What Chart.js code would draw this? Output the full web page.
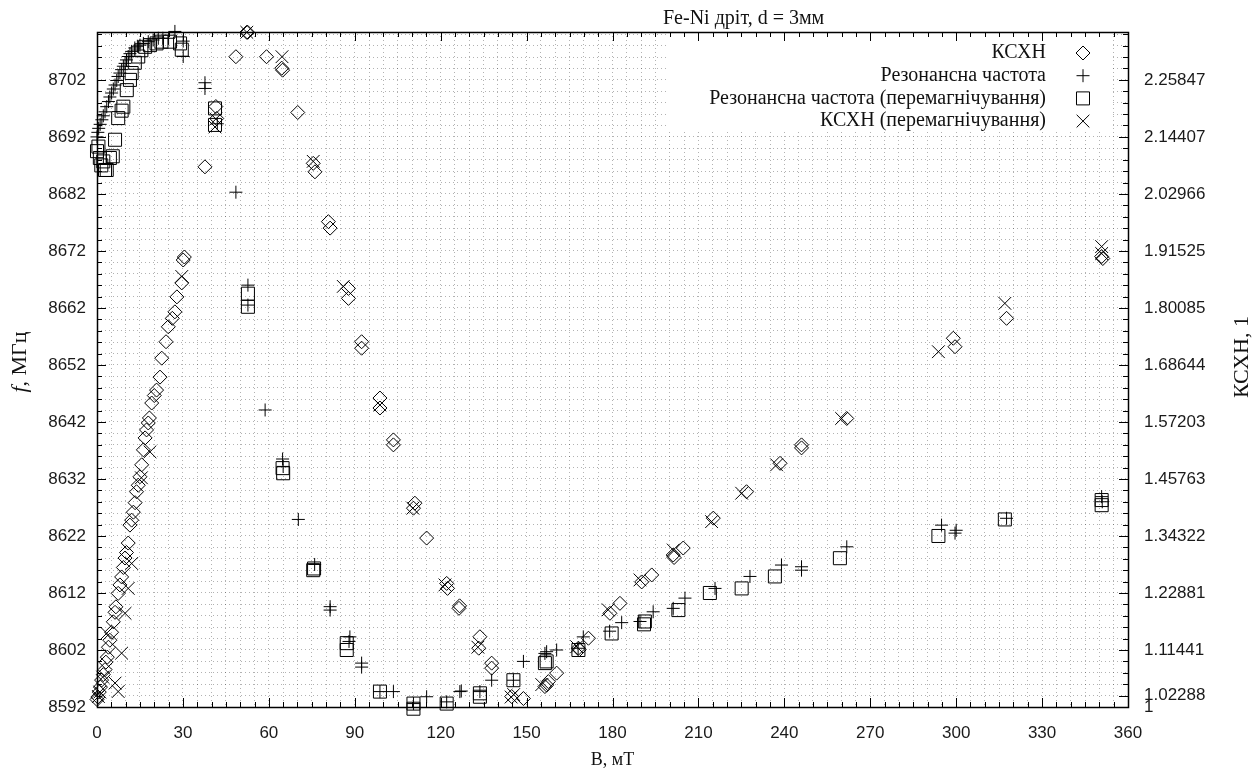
<!DOCTYPE html>
<html>
<head>
<meta charset="utf-8">
<script src="https://cdn.jsdelivr.net/npm/chart.js@4/dist/chart.umd.min.js"></script>
<style>
  html, body { margin: 0; padding: 0; background: #fff; }
  #wrap { width: 1254px; height: 776px; position: relative; }
</style>
</head>
<body>
<div id="wrap"><canvas id="chart"></canvas></div>
<script>

// КСХН (diamonds, right axis)
const bVswr = [0, 0.3, 0.8, 1.2, 1.6, 2.2, 2.8, 3.1, 3.6, 4.0, 4.5, 5.1, 5.7, 6.3, 6.6, 7.4, 8.0, 8.6, 9.2, 9.8,
    10.3, 10.9, 11.5, 12.1, 12.7, 13.3, 13.8, 14.4, 15.0, 15.6, 16.2, 16.8, 17.3, 17.9, 18.3, 19.1, 20.0, 20.8, 22.0, 22.6,
    24.1, 24.9, 26.3, 27.2, 27.9, 29.6, 30.1, 30.5,
    37.7, 41.5, 41.8, 48.5, 52.3, 52.6, 59.2, 64.5, 64.8, 70.1, 75.5, 76.1, 80.8, 81.4, 87.8, 87.8, 92.4, 92.4, 98.8, 98.8,
    103.5, 103.5, 111.0, 110.5, 115.1, 122.1, 122.4, 126.4, 126.6, 133.7, 133.3, 137.8, 137.8, 144.8, 148.9, 156.4, 157.0,
    157.6, 160.5, 168.1, 168.4, 171.6, 179.1, 182.6, 190.2, 193.7, 201.2, 201.5, 204.7, 215.2, 226.8, 238.5, 246.0, 246.0,
    261.8, 299.0, 299.6, 317.6, 350.8, 351.2]
const vswr = [1.015, 1.02, 1.03, 1.04, 1.054, 1.065, 1.075, 1.09, 1.10, 1.12, 1.134, 1.15, 1.171, 1.19, 1.201, 1.228, 1.245, 1.261, 1.28, 1.299,
    1.31, 1.329, 1.365, 1.375, 1.391, 1.41, 1.432, 1.445, 1.462, 1.486, 1.516, 1.540, 1.556, 1.57, 1.580, 1.610, 1.625, 1.636, 1.662, 1.700,
    1.733, 1.763, 1.78, 1.793, 1.823, 1.851, 1.897, 1.903,
    2.084, 2.205, 2.181, 2.305, 2.354, 2.354, 2.305, 2.282, 2.278, 2.193, 2.091, 2.074, 1.974, 1.961, 1.840, 1.820, 1.733, 1.720, 1.620, 1.600,
    1.536, 1.526, 1.409, 1.399, 1.339, 1.248, 1.238, 1.198, 1.203, 1.141, 1.118, 1.088, 1.078, 1.021, 1.017, 1.041, 1.044,
    1.051, 1.068, 1.118, 1.115, 1.138, 1.188, 1.208, 1.251, 1.265, 1.305, 1.300, 1.319, 1.379, 1.432, 1.489, 1.526, 1.520,
    1.579, 1.740, 1.723, 1.780, 1.904, 1.900]

// Резонансна частота (plus, left axis)
const bFreq = [0, 0.3, 0.6, 1.1, 1.7, 2.2, 2.8, 3.4, 4.0, 4.5, 5.1, 5.7, 6.3, 6.9, 7.4, 8.0, 8.6, 9.2, 9.8, 10.3,
    10.9, 11.5, 12.1, 13.2, 14.1, 15.0, 16.2, 17.9, 19.6, 21.4, 23.0, 25.0, 27.2, 30.1, 30.1,
    37.7, 37.7, 42.0, 48.5, 52.7, 52.7, 58.7, 64.8, 65.0, 70.3, 76.0, 81.4, 81.4, 88.3, 88.0,
    92.4, 92.4, 98.8, 103.5, 110.5, 115.1, 122.1, 126.7, 127.2, 133.7, 137.8, 145.4, 148.9, 156.4, 157.0,
    160.5, 168.0, 169.8, 179.0, 183.2, 189.6, 194.2, 201.2, 205.3, 215.8, 228.0, 239.0, 246.0, 246.0, 261.8,
    294.9, 299.6, 300.0, 317.6, 350.8, 351.0]
const freq = [8692.0, 8692.8, 8693.5, 8694.2, 8695.0, 8695.7, 8696.4, 8697.3, 8698.2, 8699.0, 8699.7, 8700.4, 8701.1, 8701.9, 8702.6, 8703.2, 8703.8, 8704.4, 8704.9, 8705.5,
    8706.1, 8706.6, 8707.0, 8707.6, 8707.9, 8708.1, 8708.4, 8708.7, 8709.0, 8709.3, 8709.3, 8709.3, 8710.5, 8706.1, 8708.8,
    8701.5, 8700.5, 8694.3, 8682.3, 8666.0, 8662.5, 8644.1, 8635.5, 8634.2, 8624.9, 8617.0, 8609.6, 8609.0, 8604.3, 8603.5,
    8599.7, 8599.0, 8594.7, 8594.7, 8592.6, 8593.8, 8592.9, 8594.7, 8594.8, 8594.7, 8596.7, 8596.7, 8600.0, 8601.4, 8601.7,
    8602.0, 8602.3, 8604.3, 8605.3, 8606.8, 8607.0, 8608.7, 8609.3, 8611.1, 8612.8, 8614.9, 8616.9, 8616.6, 8616.0, 8620.1,
    8623.9, 8622.5, 8623.0, 8625.1, 8628.9, 8628.0]

// Резонансна частота (перемагнічування) (squares, left axis)
const bFreqRemag = [0, 0.5, 1.0, 1.5, 2.2, 2.8, 3.4, 4.5, 5.5, 6.3, 7.4, 8.6, 9.2, 10.4, 11.5, 12.1, 13.2, 14.4, 15.5, 16.8,
    18.5, 20.8, 22.5, 25.5, 29.0, 29.6, 41.2, 41.2, 52.7, 52.7, 64.8, 65.0, 75.5, 75.8, 87.2, 87.2, 98.8, 110.5, 110.5, 122.1,
    133.7, 133.7, 145.4, 156.4, 157.0, 168.1, 179.7, 191.0, 191.3, 203.0, 214.0, 225.1, 236.7, 259.4, 293.8, 317.0, 350.8, 350.8]
const freqRemag = [8689.5, 8690.3, 8688.3, 8687.0, 8687.7, 8686.2, 8686.2, 8688.3, 8688.6, 8691.5, 8695.3, 8696.6, 8697.3, 8700.2, 8702.0, 8703.2, 8705.0, 8706.1, 8707.2, 8707.8,
    8708.1, 8708.4, 8708.7, 8708.7, 8708.4, 8707.3, 8697.0, 8694.1, 8664.5, 8662.2, 8633.9, 8633.0, 8616.0, 8616.3, 8603.2, 8602.0, 8594.7, 8592.6, 8591.7, 8592.6,
    8594.4, 8593.8, 8596.7, 8599.7, 8600.0, 8602.0, 8604.9, 8606.5, 8607.0, 8609.0, 8612.0, 8612.8, 8614.9, 8618.1, 8622.0, 8624.9, 8627.4, 8628.3]

// КСХН (перемагнічування) (crosses, right axis)
const bVswrRemag = [0.5, 1.0, 2.0, 3.4, 6.3, 7.4, 8.6, 9.8, 10.9, 12.1, 15.5, 18.5, 29.6, 41.2, 41.5, 52.3, 64.6, 75.5, 86.0, 98.8,
    110.3, 121.5, 133.0, 144.6, 145.5, 155.3, 167.5, 178.5, 189.6, 201.2, 214.6, 225.1, 237.3, 260.0, 293.8, 317.0, 350.8, 350.8]
const vswrRemag = [1.021, 1.03, 1.06, 1.148, 1.048, 1.031, 1.108, 1.188, 1.238, 1.288, 1.46, 1.512, 1.864, 2.164, 2.18, 2.354, 2.305, 2.095, 1.844, 1.606,
    1.399, 1.245, 1.120, 1.020, 1.025, 1.045, 1.121, 1.195, 1.255, 1.315, 1.372, 1.429, 1.486, 1.579, 1.713, 1.810, 1.924, 1.910]

// Axes
const xTickLabels = [0, 30, 60, 90, 120, 150, 180, 210, 240, 270, 300, 330, 360]
const yTickLabels = [8592, 8602, 8612, 8622, 8632, 8642, 8652, 8662, 8672, 8682, 8692, 8702]
const y2TickLabels = ['1', '1.02288', '1.11441', '1.22881', '1.34322', '1.45763', '1.57203', '1.68644',
    '1.80085', '1.91525', '2.02966', '2.14407', '2.25847']
const xMinorStep = 5
const yMinorStep = 2
const yMin = 8592, yMax = 8710.4
// КСХН per 10 MHz on the twin axis (1 at 8592)
const vswrPer10 = 0.1144066

const tickFont = { family: 'Liberation Sans', size: 17 }
const serif = '"Liberation Serif", serif'

/**
 * zip two arrays into scatter points
 * @param {Number[]} xs 
 * @param {Number[]} ys 
 */
function points(xs, ys) {
    return xs.map((x, i) => ({ x, y: ys[i] }))
}

function range(start, stop, step) {
    const out = []
    for (let v = start; v <= stop + 1e-9; v += step) out.push(+v.toFixed(6))
    return out
}

function crisp(v) {
    return Math.round(v) + 0.5
}

const decor = {
    id: 'decor',
    beforeDatasetsDraw(chart) {
        // opaque key box
        const { right, top } = chart.chartArea
        const ctx = chart.ctx
        ctx.save()
        ctx.fillStyle = '#fff'
        ctx.fillRect(668, top + 1, right - 15 - 668, 99)
        ctx.restore()
    },
    afterDraw(chart) {
        const ctx = chart.ctx
        const { left, right, top, bottom } = chart.chartArea
        const sx = chart.scales.x, sy = chart.scales.y, sy2 = chart.scales.y2
        ctx.save()
        ctx.strokeStyle = '#000'
        ctx.lineWidth = 1

        const line = (x1, y1, x2, y2) => {
            ctx.beginPath()
            ctx.moveTo(x1, y1)
            ctx.lineTo(x2, y2)
            ctx.stroke()
        }
        // inward tick marks
        sx.ticks.forEach(t => {
            const px = crisp(sx.getPixelForValue(t.value))
            const len = xTickLabels.includes(t.value) ? 9 : 5
            line(px, bottom, px, bottom - len)
            line(px, top, px, top + len)
        })
        sy.ticks.forEach(t => {
            const py = crisp(sy.getPixelForValue(t.value))
            const major = yTickLabels.includes(t.value)
            line(left, py, left + (major ? 9 : 5), py)
            if (!major) line(right, py, right - 5, py)
        })
        sy2.ticks.forEach(t => {
            const py = crisp(sy2.getPixelForValue(t.value))
            line(right, py, right - 9, py)
        })

        // frame
        ctx.lineWidth = 1.5
        ctx.strokeRect(Math.round(left) + 0.5, Math.round(top) + 0.5, Math.round(right - left), Math.round(bottom - top))

        // title and axis titles
        ctx.fillStyle = '#111'
        ctx.font = '20px ' + serif
        ctx.textBaseline = 'middle'
        ctx.textAlign = 'left'
        ctx.fillText('Fe-Ni дріт, d = 3мм', 663, 19)

        ctx.font = '18px ' + serif
        ctx.textAlign = 'center'
        ctx.fillText('B, мТ', (left + right) / 2, 760)

        ctx.save()
        ctx.translate(20, 362)
        ctx.rotate(-Math.PI / 2)
        ctx.font = 'italic 22px ' + serif
        const wf = ctx.measureText('f').width
        ctx.font = '22px ' + serif
        const wr = ctx.measureText(', МГц').width
        ctx.textAlign = 'left'
        ctx.font = 'italic 22px ' + serif
        ctx.fillText('f', -(wf + wr) / 2, 0)
        ctx.font = '22px ' + serif
        ctx.fillText(', МГц', -(wf + wr) / 2 + wf, 0)
        ctx.restore()

        ctx.save()
        ctx.translate(1242, 357)
        ctx.rotate(-Math.PI / 2)
        ctx.font = '22px ' + serif
        ctx.textAlign = 'center'
        ctx.fillText('КСХН, 1', 0, 0)
        ctx.restore()

        // key
        ctx.font = '20px ' + serif
        ctx.textAlign = 'right'
        chart.data.datasets.forEach((ds, i) => {
            const yy = top + 21 + i * 22.7
            ctx.fillStyle = '#111'
            ctx.fillText(ds.label, 1046, yy)
            ctx.fillStyle = 'rgba(0,0,0,0)'
            ctx.strokeStyle = '#000'
            ctx.lineWidth = 1
            Chart.helpers.drawPoint(ctx, {
                pointStyle: ds.pointStyle, radius: ds.pointRadius, rotation: 0, borderWidth: 1
            }, 1083, yy)
        })
        ctx.restore()
    }
}

function series(label, data, axis, style, radius) {
    return {
        label,
        data,
        yAxisID: axis,
        pointStyle: style,
        pointRadius: radius,
        pointHoverRadius: radius,
        pointBorderWidth: 1,
        pointBorderColor: '#000',
        pointBackgroundColor: 'rgba(0,0,0,0)',
        showLine: false,
        clip: false
    }
}

function main() {
    const ctx = document.getElementById('chart')
    const y2Max = 1 + (yMax - yMin) * vswrPer10 / 10
    const dotted = { color: 'rgba(0,0,0,0.3)', lineWidth: 1, drawTicks: false }

    new Chart(ctx, {
        type: 'scatter',
        data: {
            datasets: [
                series('КСХН', points(bVswr, vswr), 'y2', 'rectRot', 7),
                series('Резонансна частота', points(bFreq, freq), 'y', 'cross', 6.5),
                series('Резонансна частота (перемагнічування)', points(bFreqRemag, freqRemag), 'y', 'rect', 9.2),
                series('КСХН (перемагнічування)', points(bVswrRemag, vswrRemag), 'y2', 'crossRot', 9)
            ]
        },
        options: {
            responsive: true,
            maintainAspectRatio: false,
            animation: false,
            devicePixelRatio: 1,
            layout: { padding: { top: 32, left: 0, right: 0, bottom: 0 } },
            plugins: {
                legend: { display: false },
                tooltip: { enabled: false },
                title: { display: false }
            },
            scales: {
                x: {
                    type: 'linear',
                    min: 0,
                    max: 360,
                    grid: dotted,
                    border: { display: false, dash: [1, 3] },
                    afterBuildTicks: scale => { scale.ticks = range(0, 360, xMinorStep).map(value => ({ value })) },
                    afterFit: scale => { scale.height = 69 },
                    ticks: {
                        autoSkip: false,
                        maxRotation: 0,
                        padding: 16,
                        color: '#1a1a1a',
                        font: tickFont,
                        callback: v => xTickLabels.includes(v) ? String(v) : ''
                    }
                },
                y: {
                    type: 'linear',
                    position: 'left',
                    min: yMin,
                    max: yMax,
                    grid: dotted,
                    border: { display: false, dash: [1, 3] },
                    afterBuildTicks: scale => { scale.ticks = range(yMin, yMax, yMinorStep).map(value => ({ value })) },
                    afterFit: scale => { scale.width = 97 },
                    ticks: {
                        autoSkip: false,
                        padding: 11,
                        color: '#1a1a1a',
                        font: tickFont,
                        callback: v => yTickLabels.includes(v) ? String(v) : ''
                    }
                },
                y2: {
                    type: 'linear',
                    position: 'right',
                    min: 1,
                    max: y2Max,
                    grid: { display: false, drawTicks: false },
                    border: { display: false },
                    afterBuildTicks: scale => { scale.ticks = y2TickLabels.map(s => ({ value: parseFloat(s) })) },
                    afterFit: scale => { scale.width = 126 },
                    ticks: {
                        autoSkip: false,
                        padding: 16,
                        color: '#1a1a1a',
                        font: tickFont,
                        callback: (v, i) => y2TickLabels[i]
                    }
                }
            }
        },
        plugins: [decor]
    })
}

window.onload = main
</script>
</body>
</html>
